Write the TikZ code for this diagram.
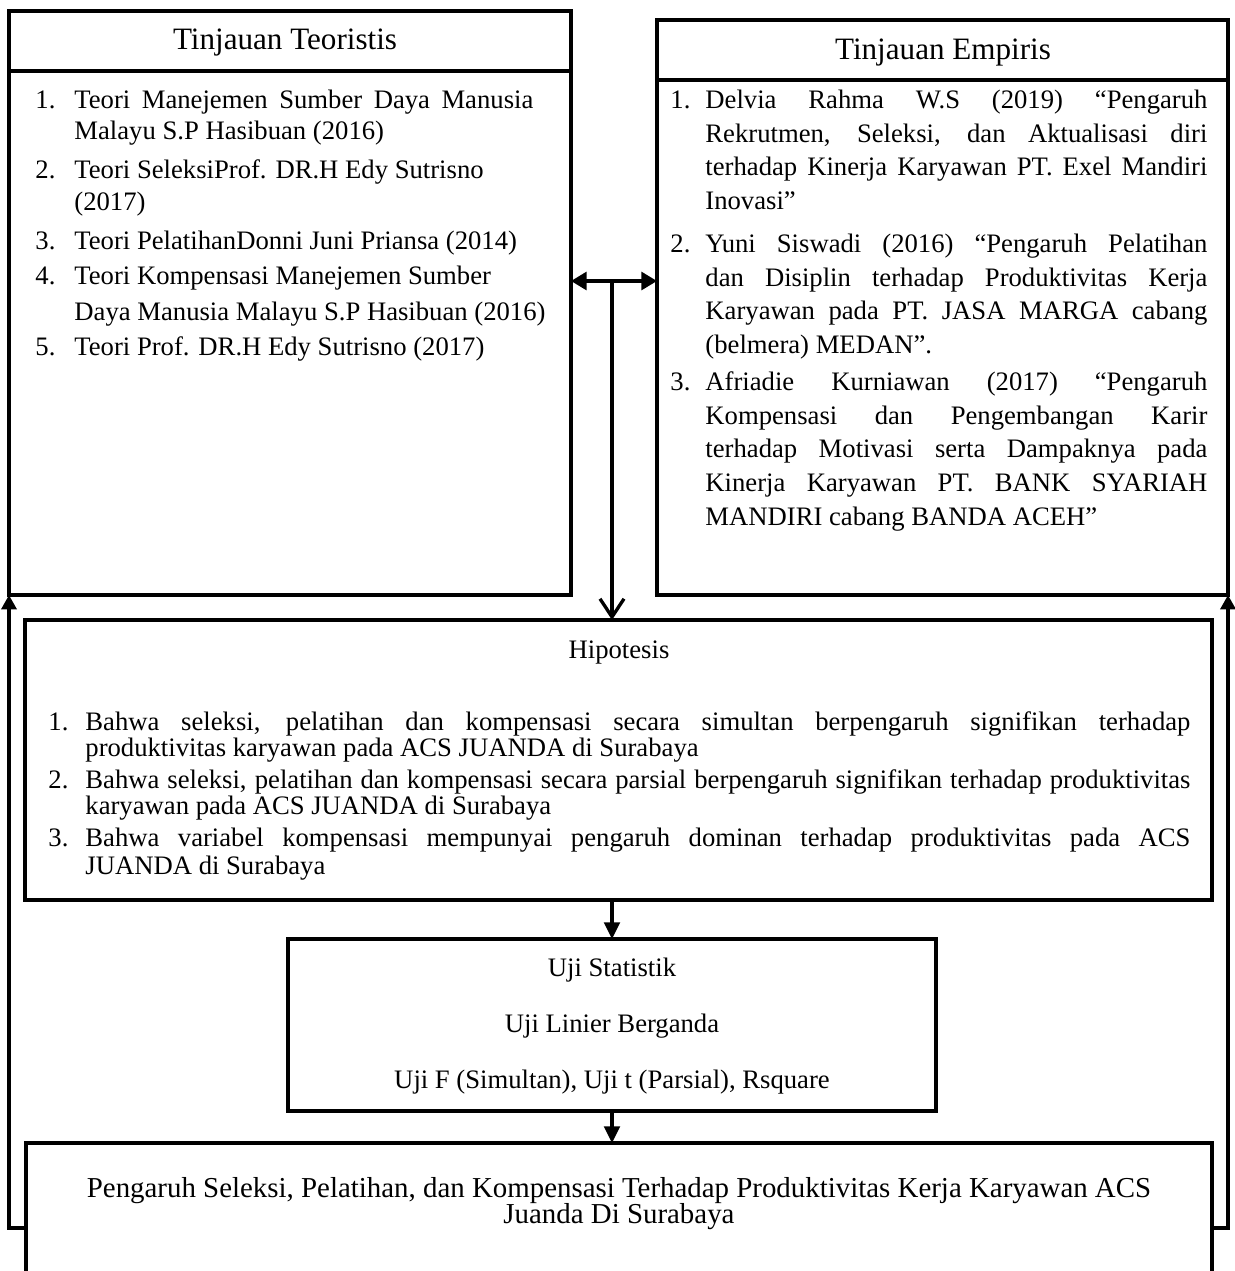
\documentclass[tikz,border=0pt]{standalone}
\usepackage{fontspec}
\setmainfont{Liberation Serif}
\usetikzlibrary{arrows.meta}
\newcommand\pxu{0.45pt}
\newlength\rwl \setlength\rwl{225.9pt}
\newlength\hwl \setlength\hwl{497.25pt}
\newlength\lwl \setlength\lwl{206.5pt}
\begin{document}
\begin{tikzpicture}[x=0.45pt,y=-0.45pt,
  box/.style={draw, line width=1.5pt, inner sep=0pt, outer sep=0pt},
  ttl/.style={font=\fontsize{14}{16}\selectfont, inner sep=0pt},
  ptxt/.style={font=\fontsize{13}{15}\selectfont, inner sep=0pt, anchor=base},
  txt/.style={font=\fontsize{12}{14}\selectfont, inner sep=0pt, anchor=base west},
  ctxt/.style={font=\fontsize{12}{14}\selectfont, inner sep=0pt, anchor=base},
  conn/.style={line width=1.5pt},
  tri/.style={-{Triangle[length=7.5pt,width=7pt]}},
]
\useasboundingbox (0,0) rectangle (1235,1271);
% boxes
\node[box, minimum width=562*\pxu, minimum height=584*\pxu] (tl) at (290,303) {};
\node[box, minimum width=571*\pxu, minimum height=575*\pxu] (tr) at (942.5,307.5) {};
\node[box, minimum width=1187*\pxu, minimum height=280*\pxu] (hip) at (618.5,760) {};
\node[box, minimum width=648*\pxu, minimum height=172*\pxu] (uji) at (612,1025) {};
\node[inner sep=0pt, outer sep=0pt, minimum width=1186*\pxu, minimum height=128*\pxu] (pg) at (619,1207) {};
\draw[line width=1.5pt] (pg.south west) -- (pg.north west) -- (pg.north east) -- (pg.south east);
% separators
\draw[line width=1.5pt] (tl.west |- 0,71) -- (tl.east |- 0,71);
\draw[line width=1.5pt] (tr.west |- 0,80) -- (tr.east |- 0,80);
% titles
\node[ttl] (tlt) at (285,43) {Tinjauan Teoristis};
\node[ttl] (trt) at (943,53) {Tinjauan Empiris};
% left list
\node[txt] (l1n) at (35,108) {1.};
\node[txt] (l1a) at (74,108) {\makebox[\lwl][s]{Teori Manejemen Sumber Daya Manusia}};
\node[txt] (l1b) at (74,139) {Malayu S.P Hasibuan (2016)};
\node[txt] (l2n) at (35,178) {2.};
\node[txt] (l2a) at (74,178) {Teori SeleksiProf. DR.H Edy Sutrisno};
\node[txt] (l2b) at (74,210) {(2017)};
\node[txt] (l3n) at (35,249) {3.};
\node[txt] (l3a) at (74,249) {Teori PelatihanDonni Juni Priansa (2014)};
\node[txt] (l4n) at (35,284) {4.};
\node[txt] (l4a) at (74,284) {Teori Kompensasi Manejemen Sumber};
\node[txt] (l4b) at (74,320) {Daya Manusia Malayu S.P Hasibuan (2016)};
\node[txt] (l5n) at (35,355) {5.};
\node[txt] (l5a) at (74,355) {Teori Prof. DR.H Edy Sutrisno (2017)};
% right list
\node[txt] (r1n) at (670,108) {1.};
\node[txt] (r1a) at (705,108) {\makebox[\rwl][s]{Delvia Rahma W.S (2019) “Pengaruh}};
\node[txt] (r1b) at (705,142) {\makebox[\rwl][s]{Rekrutmen, Seleksi, dan Aktualisasi diri}};
\node[txt] (r1c) at (705,175) {\makebox[\rwl][s]{terhadap Kinerja Karyawan PT. Exel Mandiri}};
\node[txt] (r1d) at (705,209) {Inovasi”};
\node[txt] (r2n) at (670,252) {2.};
\node[txt] (r2a) at (705,252) {\makebox[\rwl][s]{Yuni Siswadi (2016) “Pengaruh Pelatihan}};
\node[txt] (r2b) at (705,286) {\makebox[\rwl][s]{dan Disiplin terhadap Produktivitas Kerja}};
\node[txt] (r2c) at (705,319) {\makebox[\rwl][s]{Karyawan pada PT. JASA MARGA cabang}};
\node[txt] (r2d) at (705,353) {(belmera) MEDAN”.};
\node[txt] (r3n) at (670,390) {3.};
\node[txt] (r3a) at (705,390) {\makebox[\rwl][s]{Afriadie Kurniawan (2017) “Pengaruh}};
\node[txt] (r3b) at (705,424) {\makebox[\rwl][s]{Kompensasi dan Pengembangan Karir}};
\node[txt] (r3c) at (705,457) {\makebox[\rwl][s]{terhadap Motivasi serta Dampaknya pada}};
\node[txt] (r3d) at (705,491) {\makebox[\rwl][s]{Kinerja Karyawan PT. BANK SYARIAH}};
\node[txt] (r3e) at (705,525) {MANDIRI cabang BANDA ACEH”};
% hipotesis
\node[ctxt] (hipt) at (619,658) {Hipotesis};
\node[txt] (h1n) at (48,730) {1.};
\node[txt] (h1a) at (85,730) {\makebox[\hwl][s]{Bahwa seleksi, pelatihan dan kompensasi secara simultan berpengaruh signifikan terhadap}};
\node[txt] (h1b) at (85,756) {produktivitas karyawan pada ACS JUANDA di Surabaya};
\node[txt] (h2n) at (48,788) {2.};
\node[txt] (h2a) at (85,788) {\makebox[\hwl][s]{Bahwa seleksi, pelatihan dan kompensasi secara parsial berpengaruh signifikan terhadap produktivitas}};
\node[txt] (h2b) at (85,814) {karyawan pada ACS JUANDA di Surabaya};
\node[txt] (h3n) at (48,846) {3.};
\node[txt] (h3a) at (85,846) {\makebox[\hwl][s]{Bahwa variabel kompensasi mempunyai pengaruh dominan terhadap produktivitas pada ACS}};
\node[txt] (h3b) at (85,874) {JUANDA di Surabaya};
% uji
\node[ctxt] (u1) at (612,976) {Uji Statistik};
\node[ctxt] (u2) at (612,1032) {Uji Linier Berganda};
\node[ctxt] (u3) at (612,1088) {Uji F (Simultan), Uji t (Parsial), Rsquare};
% pengaruh
\node[ptxt] (p1) at (619,1197) {Pengaruh Seleksi, Pelatihan, dan Kompensasi Terhadap Produktivitas Kerja Karyawan ACS};
\node[ptxt] (p2) at (619,1223) {Juanda Di Surabaya};
% connectors
\coordinate (mid) at (612,281);
\draw[conn, {Triangle[length=7pt,width=8pt]}-{Triangle[length=7pt,width=8pt]}] (tl.east |- mid) -- (tr.west |- mid);
\draw[conn, -{Straight Barb[length=8.2pt,width=10.8pt,line width=1.5pt]}] (mid) -- (mid |- hip.north);
\draw[conn, tri] (hip.south -| uji.north) -- (uji.north);
\draw[conn, tri] (uji.south) -- (uji.south |- pg.north);
\coordinate (lc) at (9,1228);
\coordinate (rc) at (1228,1228);
\draw[conn, -{Triangle[length=6.5pt,width=6.8pt]}] (pg.west |- lc) -- (lc) -- (lc |- tl.south);
\draw[conn, -{Triangle[length=6.5pt,width=6.8pt]}] (pg.east |- rc) -- (rc) -- (rc |- tr.south);
\end{tikzpicture}
\end{document}
